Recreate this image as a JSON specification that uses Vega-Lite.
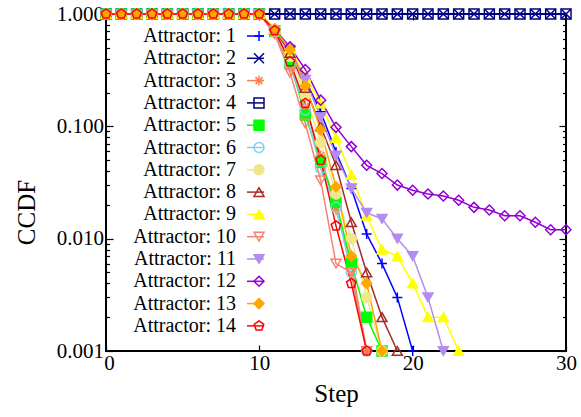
{
  "$schema": "https://vega.github.io/schema/vega-lite/v6.json",
  "width": 460,
  "height": 337,
  "autosize": "none",
  "padding": {"left": 106, "top": 14, "right": 15, "bottom": 66},
  "config": {
    "font": "Liberation Serif",
    "view": {"stroke": "black", "strokeWidth": 2},
    "axis": {"grid": false, "domain": false, "tickColor": "black", "tickWidth": 1.2, "labelColor": "black", "titleColor": "black", "labelFont": "Liberation Serif", "titleFont": "Liberation Serif", "titleFontWeight": "normal"},
    "legend": {"labelFont": "Liberation Serif", "labelColor": "black"}
  },
  "data": {"values": [
    {"n":1,"s":0,"v":1},{"n":1,"s":1,"v":1},{"n":1,"s":2,"v":1},{"n":1,"s":3,"v":1},{"n":1,"s":4,"v":1},{"n":1,"s":5,"v":1},{"n":1,"s":6,"v":1},{"n":1,"s":7,"v":1},{"n":1,"s":8,"v":1},{"n":1,"s":9,"v":1},{"n":1,"s":10,"v":1},
    {"n":1,"s":11,"v":0.72},{"n":1,"s":12,"v":0.47},{"n":1,"s":13,"v":0.26},{"n":1,"s":14,"v":0.135},{"n":1,"s":15,"v":0.059},{"n":1,"s":16,"v":0.028},{"n":1,"s":17,"v":0.011},{"n":1,"s":18,"v":0.006},{"n":1,"s":19,"v":0.003},{"n":1,"s":20,"v":0.001},
    {"n":2,"s":0,"v":1},{"n":2,"s":1,"v":1},{"n":2,"s":2,"v":1},{"n":2,"s":3,"v":1},{"n":2,"s":4,"v":1},{"n":2,"s":5,"v":1},{"n":2,"s":6,"v":1},{"n":2,"s":7,"v":1},{"n":2,"s":8,"v":1},{"n":2,"s":9,"v":1},{"n":2,"s":10,"v":1},
    {"n":2,"s":11,"v":1},{"n":2,"s":12,"v":1},{"n":2,"s":13,"v":1},{"n":2,"s":14,"v":1},{"n":2,"s":15,"v":1},{"n":2,"s":16,"v":1},{"n":2,"s":17,"v":1},{"n":2,"s":18,"v":1},{"n":2,"s":19,"v":1},{"n":2,"s":20,"v":1},
    {"n":2,"s":21,"v":1},{"n":2,"s":22,"v":1},{"n":2,"s":23,"v":1},{"n":2,"s":24,"v":1},{"n":2,"s":25,"v":1},{"n":2,"s":26,"v":1},{"n":2,"s":27,"v":1},{"n":2,"s":28,"v":1},{"n":2,"s":29,"v":1},{"n":2,"s":30,"v":1},
    {"n":3,"s":0,"v":1},{"n":3,"s":1,"v":1},{"n":3,"s":2,"v":1},{"n":3,"s":3,"v":1},{"n":3,"s":4,"v":1},{"n":3,"s":5,"v":1},{"n":3,"s":6,"v":1},{"n":3,"s":7,"v":1},{"n":3,"s":8,"v":1},{"n":3,"s":9,"v":1},{"n":3,"s":10,"v":1},
    {"n":3,"s":11,"v":0.68},{"n":3,"s":12,"v":0.34},{"n":3,"s":13,"v":0.15},{"n":3,"s":14,"v":0.055},{"n":3,"s":15,"v":0.018},{"n":3,"s":16,"v":0.006},{"n":3,"s":17,"v":0.001},
    {"n":4,"s":0,"v":1},{"n":4,"s":1,"v":1},{"n":4,"s":2,"v":1},{"n":4,"s":3,"v":1},{"n":4,"s":4,"v":1},{"n":4,"s":5,"v":1},{"n":4,"s":6,"v":1},{"n":4,"s":7,"v":1},{"n":4,"s":8,"v":1},{"n":4,"s":9,"v":1},{"n":4,"s":10,"v":1},
    {"n":4,"s":11,"v":1},{"n":4,"s":12,"v":1},{"n":4,"s":13,"v":1},{"n":4,"s":14,"v":1},{"n":4,"s":15,"v":1},{"n":4,"s":16,"v":1},{"n":4,"s":17,"v":1},{"n":4,"s":18,"v":1},{"n":4,"s":19,"v":1},{"n":4,"s":20,"v":1},
    {"n":4,"s":21,"v":1},{"n":4,"s":22,"v":1},{"n":4,"s":23,"v":1},{"n":4,"s":24,"v":1},{"n":4,"s":25,"v":1},{"n":4,"s":26,"v":1},{"n":4,"s":27,"v":1},{"n":4,"s":28,"v":1},{"n":4,"s":29,"v":1},{"n":4,"s":30,"v":1},
    {"n":5,"s":0,"v":1},{"n":5,"s":1,"v":1},{"n":5,"s":2,"v":1},{"n":5,"s":3,"v":1},{"n":5,"s":4,"v":1},{"n":5,"s":5,"v":1},{"n":5,"s":6,"v":1},{"n":5,"s":7,"v":1},{"n":5,"s":8,"v":1},{"n":5,"s":9,"v":1},{"n":5,"s":10,"v":1},
    {"n":5,"s":11,"v":0.70},{"n":5,"s":12,"v":0.37},{"n":5,"s":13,"v":0.126},{"n":5,"s":14,"v":0.048},{"n":5,"s":15,"v":0.021},{"n":5,"s":16,"v":0.006},{"n":5,"s":17,"v":0.002},{"n":5,"s":18,"v":0.001},
    {"n":6,"s":0,"v":1},{"n":6,"s":1,"v":1},{"n":6,"s":2,"v":1},{"n":6,"s":3,"v":1},{"n":6,"s":4,"v":1},{"n":6,"s":5,"v":1},{"n":6,"s":6,"v":1},{"n":6,"s":7,"v":1},{"n":6,"s":8,"v":1},{"n":6,"s":9,"v":1},{"n":6,"s":10,"v":1},
    {"n":6,"s":11,"v":0.69},{"n":6,"s":12,"v":0.36},{"n":6,"s":13,"v":0.14},{"n":6,"s":14,"v":0.042},{"n":6,"s":15,"v":0.019},{"n":6,"s":16,"v":0.005},{"n":6,"s":17,"v":0.001},
    {"n":7,"s":0,"v":1},{"n":7,"s":1,"v":1},{"n":7,"s":2,"v":1},{"n":7,"s":3,"v":1},{"n":7,"s":4,"v":1},{"n":7,"s":5,"v":1},{"n":7,"s":6,"v":1},{"n":7,"s":7,"v":1},{"n":7,"s":8,"v":1},{"n":7,"s":9,"v":1},{"n":7,"s":10,"v":1},
    {"n":7,"s":11,"v":0.70},{"n":7,"s":12,"v":0.42},{"n":7,"s":13,"v":0.19},{"n":7,"s":14,"v":0.072},{"n":7,"s":15,"v":0.025},{"n":7,"s":16,"v":0.010},{"n":7,"s":17,"v":0.003},{"n":7,"s":18,"v":0.001},
    {"n":8,"s":0,"v":1},{"n":8,"s":1,"v":1},{"n":8,"s":2,"v":1},{"n":8,"s":3,"v":1},{"n":8,"s":4,"v":1},{"n":8,"s":5,"v":1},{"n":8,"s":6,"v":1},{"n":8,"s":7,"v":1},{"n":8,"s":8,"v":1},{"n":8,"s":9,"v":1},{"n":8,"s":10,"v":1},
    {"n":8,"s":11,"v":0.72},{"n":8,"s":12,"v":0.45},{"n":8,"s":13,"v":0.22},{"n":8,"s":14,"v":0.10},{"n":8,"s":15,"v":0.045},{"n":8,"s":16,"v":0.014},{"n":8,"s":17,"v":0.005},{"n":8,"s":18,"v":0.002},{"n":8,"s":19,"v":0.001},
    {"n":9,"s":0,"v":1},{"n":9,"s":1,"v":1},{"n":9,"s":2,"v":1},{"n":9,"s":3,"v":1},{"n":9,"s":4,"v":1},{"n":9,"s":5,"v":1},{"n":9,"s":6,"v":1},{"n":9,"s":7,"v":1},{"n":9,"s":8,"v":1},{"n":9,"s":9,"v":1},{"n":9,"s":10,"v":1},
    {"n":9,"s":11,"v":0.73},{"n":9,"s":12,"v":0.50},{"n":9,"s":13,"v":0.28},{"n":9,"s":14,"v":0.16},{"n":9,"s":15,"v":0.079},{"n":9,"s":16,"v":0.037},{"n":9,"s":17,"v":0.016},{"n":9,"s":18,"v":0.008},{"n":9,"s":19,"v":0.007},{"n":9,"s":20,"v":0.004},{"n":9,"s":21,"v":0.002},{"n":9,"s":22,"v":0.002},{"n":9,"s":23,"v":0.001},
    {"n":10,"s":0,"v":1},{"n":10,"s":1,"v":1},{"n":10,"s":2,"v":1},{"n":10,"s":3,"v":1},{"n":10,"s":4,"v":1},{"n":10,"s":5,"v":1},{"n":10,"s":6,"v":1},{"n":10,"s":7,"v":1},{"n":10,"s":8,"v":1},{"n":10,"s":9,"v":1},{"n":10,"s":10,"v":1},
    {"n":10,"s":11,"v":0.66},{"n":10,"s":12,"v":0.30},{"n":10,"s":13,"v":0.106},{"n":10,"s":14,"v":0.033},{"n":10,"s":15,"v":0.006},{"n":10,"s":16,"v":0.005},{"n":10,"s":17,"v":0.001},
    {"n":11,"s":0,"v":1},{"n":11,"s":1,"v":1},{"n":11,"s":2,"v":1},{"n":11,"s":3,"v":1},{"n":11,"s":4,"v":1},{"n":11,"s":5,"v":1},{"n":11,"s":6,"v":1},{"n":11,"s":7,"v":1},{"n":11,"s":8,"v":1},{"n":11,"s":9,"v":1},{"n":11,"s":10,"v":1},
    {"n":11,"s":11,"v":0.72},{"n":11,"s":12,"v":0.48},{"n":11,"s":13,"v":0.26},{"n":11,"s":14,"v":0.12},{"n":11,"s":15,"v":0.055},{"n":11,"s":16,"v":0.028},{"n":11,"s":17,"v":0.017},{"n":11,"s":18,"v":0.015},{"n":11,"s":19,"v":0.010},{"n":11,"s":20,"v":0.007},{"n":11,"s":21,"v":0.003},{"n":11,"s":22,"v":0.001},
    {"n":12,"s":0,"v":1},{"n":12,"s":1,"v":1},{"n":12,"s":2,"v":1},{"n":12,"s":3,"v":1},{"n":12,"s":4,"v":1},{"n":12,"s":5,"v":1},{"n":12,"s":6,"v":1},{"n":12,"s":7,"v":1},{"n":12,"s":8,"v":1},{"n":12,"s":9,"v":1},{"n":12,"s":10,"v":1},
    {"n":12,"s":11,"v":0.73},{"n":12,"s":12,"v":0.51},{"n":12,"s":13,"v":0.32},{"n":12,"s":14,"v":0.171},{"n":12,"s":15,"v":0.098},{"n":12,"s":16,"v":0.066},{"n":12,"s":17,"v":0.045},{"n":12,"s":18,"v":0.038},{"n":12,"s":19,"v":0.030},{"n":12,"s":20,"v":0.027},
    {"n":12,"s":21,"v":0.025},{"n":12,"s":22,"v":0.024},{"n":12,"s":23,"v":0.022},{"n":12,"s":24,"v":0.019},{"n":12,"s":25,"v":0.018},{"n":12,"s":26,"v":0.016},{"n":12,"s":27,"v":0.016},{"n":12,"s":28,"v":0.014},{"n":12,"s":29,"v":0.012},{"n":12,"s":30,"v":0.012},
    {"n":13,"s":0,"v":1},{"n":13,"s":1,"v":1},{"n":13,"s":2,"v":1},{"n":13,"s":3,"v":1},{"n":13,"s":4,"v":1},{"n":13,"s":5,"v":1},{"n":13,"s":6,"v":1},{"n":13,"s":7,"v":1},{"n":13,"s":8,"v":1},{"n":13,"s":9,"v":1},{"n":13,"s":10,"v":1},
    {"n":13,"s":11,"v":0.74},{"n":13,"s":12,"v":0.48},{"n":13,"s":13,"v":0.23},{"n":13,"s":14,"v":0.093},{"n":13,"s":15,"v":0.029},{"n":13,"s":16,"v":0.007},{"n":13,"s":17,"v":0.004},{"n":13,"s":18,"v":0.001},
    {"n":14,"s":0,"v":1},{"n":14,"s":1,"v":1},{"n":14,"s":2,"v":1},{"n":14,"s":3,"v":1},{"n":14,"s":4,"v":1},{"n":14,"s":5,"v":1},{"n":14,"s":6,"v":1},{"n":14,"s":7,"v":1},{"n":14,"s":8,"v":1},{"n":14,"s":9,"v":1},{"n":14,"s":10,"v":1},
    {"n":14,"s":11,"v":0.71},{"n":14,"s":12,"v":0.376},{"n":14,"s":13,"v":0.16},{"n":14,"s":14,"v":0.050},{"n":14,"s":15,"v":0.013},{"n":14,"s":16,"v":0.004},{"n":14,"s":17,"v":0.001}
  ]},
  "layer": [
    {
      "mark": {"type": "line", "strokeWidth": 1.5, "clip": false},
      "encoding": {
        "x": {"field": "s", "type": "quantitative", "scale": {"domain": [0, 30], "nice": false, "zero": false},
          "axis": {"orient": "bottom", "values": [0, 10, 20, 30], "tickSize": -6, "labelFontSize": 21, "labelPadding": 7, "labelFlush": false,
            "labelOffset": {"condition": {"test": "datum.value == 0", "value": 3}, "value": 0},
            "title": "Step", "titleFontSize": 25, "titlePadding": 8}},
        "y": {"field": "v", "type": "quantitative", "scale": {"type": "log", "domain": [0.001, 1], "nice": false},
          "axis": {"orient": "left",
            "values": [0.001,0.002,0.003,0.004,0.005,0.006,0.007,0.008,0.009,0.01,0.02,0.03,0.04,0.05,0.06,0.07,0.08,0.09,0.1,0.2,0.3,0.4,0.5,0.6,0.7,0.8,0.9,1],
            "labelExpr": "indexof([1,0.1,0.01,0.001], datum.value) >= 0 ? format(datum.value, '.3f') : ''",
            "tickSize": {"condition": {"test": "indexof([1,0.1,0.01,0.001], datum.value) >= 0", "value": -7}, "value": -3.5},
            "labelFontSize": 21, "labelPadding": 9.5, "labelFlush": false,
            "title": "CCDF", "titleFontSize": 25, "titleX": -67, "titleY": 198, "titleAngle": -90}},
        "color": {"field": "n", "type": "nominal",
          "scale": {"domain": [1,2,3,4,5,6,7,8,9,10,11,12,13,14], "range": ["#0000ff","#00008b","#ff7f50","#000080","#00ff00","#87ceeb","#f0e68c","#a52a2a","#ffff00","#fa8072","#b48cf0","#9400d3","#ffa500","#ff0000"]},
          "legend": {"orient": "none", "legendX": 139.5, "legendY": 12, "title": null, "symbolType": "stroke", "symbolSize": 289, "symbolStrokeWidth": 1.5, "labelExpr": "''", "labelFontSize": 20, "rowPadding": 2.3, "padding": 0}}
      }
    },
    {
      "mark": {"type": "point", "size": 100, "strokeWidth": 1.5, "opacity": 1, "clip": false},
      "encoding": {
        "x": {"field": "s", "type": "quantitative",
          "axis": {"orient": "top", "values": [0, 10, 20, 30], "tickSize": -6, "labels": false, "title": null}},
        "y": {"field": "v", "type": "quantitative",
          "axis": {"orient": "right",
            "values": [0.001,0.002,0.003,0.004,0.005,0.006,0.007,0.008,0.009,0.01,0.02,0.03,0.04,0.05,0.06,0.07,0.08,0.09,0.1,0.2,0.3,0.4,0.5,0.6,0.7,0.8,0.9,1],
            "tickSize": {"condition": {"test": "indexof([1,0.1,0.01,0.001], datum.value) >= 0", "value": -7}, "value": -3.5},
            "labels": false, "title": null}},
        "stroke": {"field": "n", "type": "nominal",
          "scale": {"range": ["#0000ff","#00008b","#ff7f50","#000080","#00ff00","#87ceeb","#f0e68c","#a52a2a","#ffff00","#fa8072","#b48cf0","#9400d3","#ffa500","#ff0000"]},
          "legend": {"orient": "none", "legendX": 143, "legendY": 12, "title": null, "labelExpr": "'Attractor: ' + datum.label", "labelAlign": "right", "labelOffset": -33, "labelFontSize": 20, "labelLimit": 300, "symbolSize": 100, "symbolStrokeWidth": 1.5, "rowPadding": 2.3, "padding": 0}},
        "fill": {"field": "n", "type": "nominal",
          "scale": {"range": ["transparent","transparent","transparent","transparent","#00ff00","transparent","#f0e68c","transparent","#ffff00","transparent","#b48cf0","transparent","#ffa500","transparent"]},
          "legend": {"orient": "none", "legendX": 143, "legendY": 12, "title": null, "labelExpr": "'Attractor: ' + datum.label", "labelAlign": "right", "labelOffset": -33, "labelFontSize": 20, "labelLimit": 300, "symbolSize": 100, "symbolStrokeWidth": 1.5, "rowPadding": 2.3, "padding": 0}},
        "shape": {"field": "n", "type": "nominal",
          "scale": {"range": ["M-1,0H1M0,-1V1","M-1,-1L1,1M-1,1L1,-1","M-1,0H1M0,-1V1M-0.7,-0.7L0.7,0.7M-0.7,0.7L0.7,-0.7","square","square","circle","circle","triangle-up","triangle-up","triangle-down","triangle-down","diamond","diamond","M0,-1L0.951,-0.309L0.588,0.809L-0.588,0.809L-0.951,-0.309Z"]},
          "legend": {"orient": "none", "legendX": 143, "legendY": 12, "title": null, "labelExpr": "'Attractor: ' + datum.label", "labelAlign": "right", "labelOffset": -33, "labelFontSize": 20, "labelLimit": 300, "symbolSize": 100, "symbolStrokeWidth": 1.5, "rowPadding": 2.3, "padding": 0}}
      }
    }
  ],
  "resolve": {"axis": {"x": "independent", "y": "independent"}}
}
